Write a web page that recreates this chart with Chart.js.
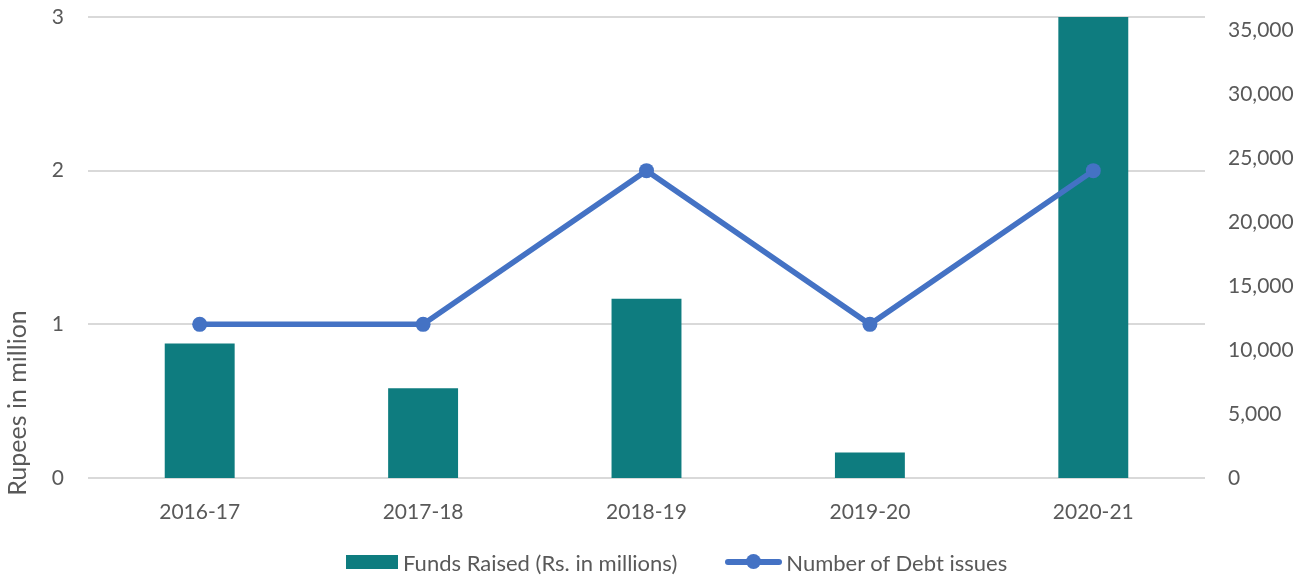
<!DOCTYPE html>
<html>
<head>
<meta charset="utf-8">
<script src="https://cdn.jsdelivr.net/npm/chart.js@4.4.1/dist/chart.umd.min.js"></script>
<style>
  html, body { margin: 0; padding: 0; background: #fff; }
  #wrap { position: relative; width: 1309px; height: 578px; }
  #legend {
    position: absolute; left: 346px; top: 549px; height: 26px;
    display: flex; align-items: center;
    font-family: Lato, "Open Sans", sans-serif; font-size: 22px; color: #595959;
    white-space: nowrap;
  }
  .item { display: flex; align-items: center; }
  .bar-key { width: 52px; height: 14px; background: #0e7c7f; margin-right: 5px; }
  .line-key { position: relative; width: 57px; height: 16px; margin-left: 48px; margin-right: 4px; }
  .line-key::before {
    content: ""; position: absolute; left: 0; right: 0; top: 5px; height: 5.5px;
    background: #4472c4; border-radius: 3px;
  }
  .line-key::after {
    content: ""; position: absolute; left: 21px; top: 0; width: 15px; height: 15px;
    background: #4472c4; border-radius: 50%;
  }
</style>
</head>
<body>
<div id="wrap">
  <canvas id="chart"></canvas>
  <div id="legend">
    <span class="item"><span class="bar-key"></span>Funds Raised (Rs. in millions)</span>
    <span class="item"><span class="line-key"></span>Number of Debt issues</span>
  </div>
</div>
<script>
const categories = ["2016-17", "2017-18", "2018-19", "2019-20", "2020-21"];
const fundsRaised = [10500, 7000, 14000, 2000, 36000];
const debtIssues = [1, 1, 2, 1, 2];
const leftTicks = [0, 1, 2, 3];
const rightTicks = [0, 5000, 10000, 15000, 20000, 25000, 30000, 35000];

const barColor = "#0e7c7f";
const lineColor = "#4472c4";
const textColor = "#595959";
const fontFamily = "Lato, 'Open Sans', sans-serif";

// y axis title drawn by hand so it can sit where the original has it
const leftTitle = {
  id: "leftTitle",
  afterDraw(chart) {
    const ctx = chart.ctx;
    ctx.save();
    ctx.translate(18, 403);
    ctx.rotate(-Math.PI / 2);
    ctx.font = "25px " + fontFamily;
    ctx.fillStyle = textColor;
    ctx.textAlign = "center";
    ctx.textBaseline = "middle";
    ctx.fillText("Rupees in million", 0, 0);
    ctx.restore();
  },
};

// fixed axis sizes, and no extra label padding above/below the plot
function fitY(width) {
  return (s) => {
    s.width = width;
    s.paddingTop = 0;
    s.paddingBottom = 0;
  };
}

new Chart(document.getElementById("chart"), {
  data: {
    labels: categories,
    datasets: [
      {
        type: "bar",
        label: "Funds Raised (Rs. in millions)",
        data: fundsRaised,
        yAxisID: "yRight",
        backgroundColor: barColor,
        categoryPercentage: 1,
        barPercentage: 0.313,
        order: 1,
      },
      {
        type: "line",
        label: "Number of Debt issues",
        data: debtIssues,
        yAxisID: "yLeft",
        borderColor: lineColor,
        backgroundColor: lineColor,
        borderWidth: 5.5,
        pointRadius: 7.5,
        pointBackgroundColor: lineColor,
        pointBorderWidth: 0,
        tension: 0,
        order: 0,
      },
    ],
  },
  options: {
    responsive: true,
    maintainAspectRatio: false,
    animation: false,
    layout: { padding: { left: 5, right: 10, top: 17, bottom: 40 } },
    plugins: {
      tooltip: { enabled: false },
      legend: { display: false },
    },
    scales: {
      x: {
        grid: { display: false, drawTicks: false },
        border: { display: false },
        ticks: { color: textColor, font: { family: fontFamily, size: 21 }, padding: 22 },
        afterFit: (s) => { s.height = 60; },
      },
      yLeft: {
        type: "linear",
        position: "left",
        min: 0,
        max: 3,
        afterBuildTicks: (s) => { s.ticks = leftTicks.map((v) => ({ value: v })); },
        grid: { color: "#d9d9d9", lineWidth: 2, drawTicks: false },
        border: { display: false },
        ticks: { color: textColor, font: { family: fontFamily, size: 21 }, padding: 24 },
        afterFit: fitY(83),
      },
      yRight: {
        type: "linear",
        position: "right",
        min: 0,
        max: 36000,
        afterBuildTicks: (s) => { s.ticks = rightTicks.map((v) => ({ value: v })); },
        ticks: {
          color: textColor,
          font: { family: fontFamily, size: 21 },
          padding: 23,
          callback: (v) => v.toLocaleString("en-US"),
        },
        grid: { display: false, drawTicks: false },
        border: { display: false },
        afterFit: fitY(94),
      },
    },
  },
  plugins: [leftTitle],
});
</script>
</body>
</html>
